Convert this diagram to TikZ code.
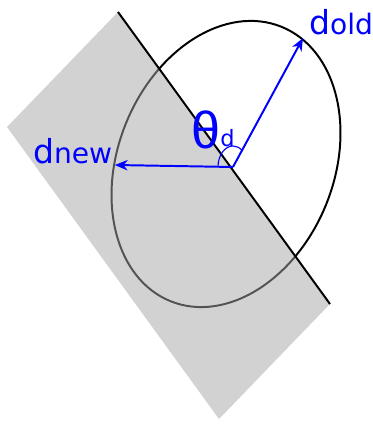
\documentclass[tikz,border=0pt]{standalone}
\usepackage{fontspec}
\setmainfont{Liberation Sans}
\newfontfamily\lblfont{DejaVu Sans}
\usetikzlibrary{arrows.meta}

\newcommand{\veclabel}[2]{\lblfont{\fontsize{23.5}{23.5}\selectfont #1}{\fontsize{20}{20}\selectfont #2}}

\tikzset{
  vec/.style={blue, line width=1.4pt, -{Stealth[length=3.2mm, width=2.6mm, inset=1mm]}},
  lbl/.style={blue, inner sep=0pt, anchor=base west},
}

\begin{document}
\begin{tikzpicture}
    \useasboundingbox (0,0) rectangle (9.325,10.65);

    % Punti
    \coordinate (O) at (5.825,6.475);
    \coordinate (C) at (5.65,6.55);
    \coordinate (T) at (2.95,10.35);
    \coordinate (R) at (8.25,3.05);
    \coordinate (L) at (0.175,7.475);
    \coordinate (B) at (5.475,0.175);
    \coordinate (oldtip) at (7.575,9.7);
    \coordinate (newtip) at (2.87,6.525);

    % Ellisse
    \draw[line width=1.4pt, rotate around={68:(C)}] (C) ellipse (3.7 and 2.7);

    % Semipiano grigio
    \fill[gray!70, opacity=0.5] (T) -- (L) -- (B) -- (R) -- cycle;

    % Retta
    \draw[line width=1.4pt] (T) -- (R);

    % Vettori
    \draw[vec] (O) -- (oldtip);
    \draw[vec] (O) -- (newtip);

    % Angolo
    \draw[blue, line width=0.8pt] (O) ++(180:0.375)
        arc[start angle=180, end angle=52, x radius=0.375, y radius=0.525];

    % Etichette
    \node[lbl] (dold) at (7.72,9.775) {\veclabel{d}{old}};
    \node[lbl] (dnew) at (0.82,6.55) {\veclabel{d}{new}};
    \node[lbl] (theta) at (4.78,6.93) {\fontsize{37}{37}\selectfont θ};
    \node[lbl] (thetad) at (5.5,6.975) {\lblfont\fontsize{16}{16}\selectfont d};
\end{tikzpicture}
\end{document}
